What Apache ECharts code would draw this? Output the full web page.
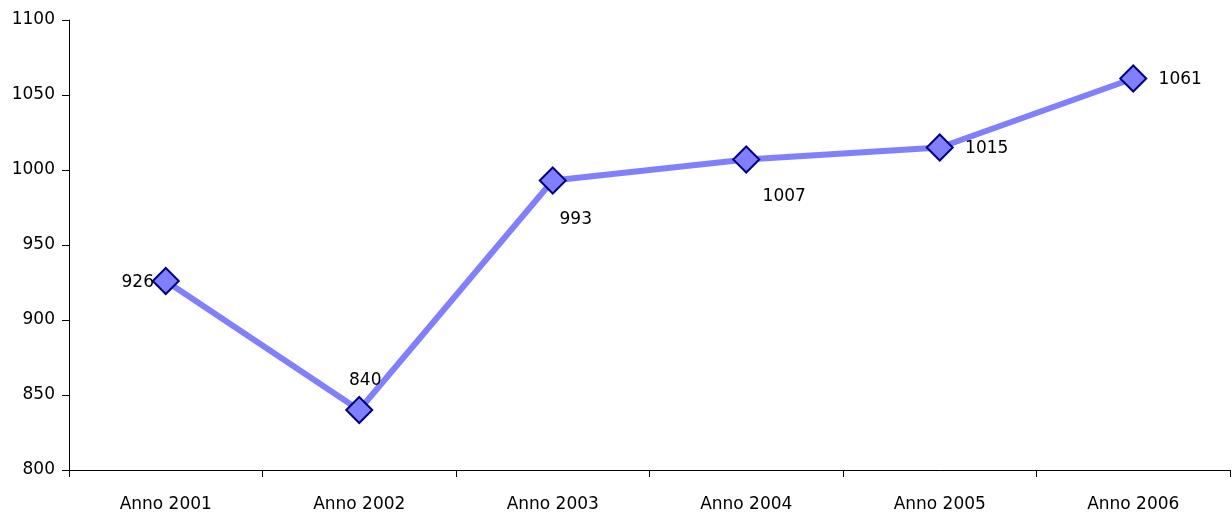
<!DOCTYPE html>
<html><head><meta charset="utf-8">
<script src="https://cdn.jsdelivr.net/npm/echarts@6/dist/echarts.min.js"></script>
<style>html,body{margin:0;padding:0;background:#fff}#c{width:1232px;height:513px}</style>
</head><body><div id="c"></div>
<script>
const categories = ['Anno 2001','Anno 2002','Anno 2003','Anno 2004','Anno 2005','Anno 2006'];
const values = [926, 840, 993, 1007, 1015, 1061];
const yTicks = [800, 850, 900, 950, 1000, 1050, 1100];
const labelOffsets = [[-28,2],[6,-29],[23,39],[38,37],[47,1],[47,1]];

const chart = echarts.init(document.getElementById('c'));
const font = 'DejaVu Sans';
chart.setOption({
  animation: false,
  grid: {left: 69, right: 2, top: 20, bottom: 43},
  xAxis: {
    type: 'category', data: categories, boundaryGap: true,
    axisLine: {lineStyle: {color: '#000', width: 1}},
    axisTick: {show: true, interval: 0, length: 7, lineStyle: {color: '#000'}},
    axisLabel: {color: '#000', fontFamily: font, fontSize: 17, margin: 26}
  },
  yAxis: {
    type: 'value', min: yTicks[0], max: yTicks[yTicks.length-1], interval: 50,
    splitLine: {show: false},
    axisLine: {show: true, lineStyle: {color: '#000', width: 1}},
    axisTick: {show: true, length: 7, lineStyle: {color: '#000'}},
    axisLabel: {color: '#000', fontFamily: font, fontSize: 17, margin: 14, formatter: v => String(v)}
  },
  series: [{
    type: 'line',
    data: values.map((v,i)=>({value: v, label: {offset: labelOffsets[i]}})),
    lineStyle: {color: '#8080FF', width: 6},
    itemStyle: {color: '#8080FF', borderColor: '#000080', borderWidth: 2},
    symbol: 'diamond', symbolSize: 26,
    label: {show: true, position: 'inside', align: 'center', verticalAlign: 'middle',
      color: '#000', fontFamily: font, fontSize: 17},
    emphasis: {disabled: true}
  }]
});
</script></body></html>
